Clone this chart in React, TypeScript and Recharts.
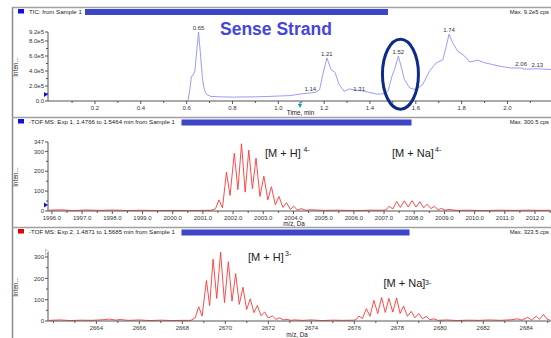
import React from "react";
import { LineChart, Line, XAxis, YAxis, ReferenceDot } from "recharts";

const FONT = "'Liberation Sans', Arial, sans-serif";

// TIC trace: [time (min), intensity (cps)]
const ticPoints: [number, number][] = [
  [0.606, 8000], [0.614, 150000], [0.621, 330000], [0.628, 340000], [0.636, 400000],
  [0.645, 700000], [0.652, 920000], [0.66, 640000], [0.669, 300000], [0.678, 140000],
  [0.688, 85000], [0.705, 62000], [0.75, 55000], [0.8, 52000], [0.85, 54000],
  [0.9, 56000], [0.95, 60000], [1.0, 66000], [1.05, 72000], [1.1, 95000],
  [1.14, 108000], [1.165, 118000], [1.18, 150000], [1.194, 350000], [1.212, 575000],
  [1.23, 420000], [1.248, 380000], [1.265, 220000], [1.287, 130000], [1.31, 160000],
  [1.33, 150000], [1.375, 130000], [1.434, 90000], [1.465, 100000], [1.48, 140000],
  [1.496, 330000], [1.507, 420000], [1.524, 600000], [1.536, 460000], [1.55, 290000],
  [1.573, 175000], [1.6, 150000], [1.63, 220000], [1.66, 400000], [1.69, 510000],
  [1.718, 550000], [1.733, 730000], [1.745, 890000], [1.762, 770000], [1.784, 660000],
  [1.813, 600000], [1.835, 520000], [1.87, 545000], [1.9, 510000], [1.93, 490000],
  [1.973, 460000], [2.017, 440000], [2.06, 440000], [2.075, 425000], [2.13, 430000],
  [2.19, 420000],
];

// peak labels on the TIC: [time, intensity, text]
const ticPeaks: [number, number, string][] = [
  [0.652, 920000, "0.65"], [1.14, 108000, "1.14"], [1.212, 575000, "1.21"],
  [1.31, 160000, "1.31"], [1.524, 600000, "1.52"], [1.745, 890000, "1.74"],
  [2.06, 440000, "2.06"], [2.13, 430000, "2.13"],
];
const circledPeak = { time: 1.533, intensity: 357000 };

// spectrum, Exp 1: [m/z, intensity]
const exp1Points: [number, number][] = [
  [1995.9, 4], [1996.3, 6], [1996.7, 2], [1997.1, 5], [1997.6, 3], [1998.0, 5],
  [1998.5, 2], [1999.0, 4], [1999.5, 2], [2000.0, 3], [2000.5, 2], [2001.0, 3],
  [2001.3, 4], [2001.42, 12], [2001.53, 56], [2001.65, 16], [2001.78, 195],
  [2001.9, 78], [2002.04, 290], [2002.16, 107], [2002.28, 338], [2002.4, 95],
  [2002.52, 306], [2002.64, 112], [2002.76, 266], [2002.89, 73], [2003.02, 175],
  [2003.15, 56], [2003.27, 122], [2003.4, 31], [2003.52, 73], [2003.65, 18],
  [2003.77, 42], [2003.9, 8], [2004.01, 24], [2004.13, 5], [2004.26, 12],
  [2004.4, 4], [2004.6, 6], [2005.0, 3], [2005.5, 4], [2006.0, 2], [2006.5, 4],
  [2007.0, 4], [2007.08, 8], [2007.17, 24], [2007.29, 10], [2007.42, 48],
  [2007.54, 18], [2007.67, 51], [2007.8, 20], [2007.93, 52], [2008.06, 20],
  [2008.19, 47], [2008.31, 16], [2008.43, 34], [2008.55, 12], [2008.67, 24],
  [2008.79, 6], [2008.9, 13], [2009.03, 4], [2009.15, 8], [2009.4, 3],
  [2009.8, 4], [2010.3, 2], [2010.8, 4], [2011.3, 3], [2011.8, 4], [2012.2, 3],
  [2012.5, 4],
];

// spectrum, Exp 2: [m/z, intensity]
const exp2Points: [number, number][] = [
  [2661.8, 3], [2662.3, 5], [2662.8, 2], [2663.3, 4], [2663.8, 3], [2664.3, 6],
  [2664.6, 9], [2664.9, 4], [2665.1, 7], [2665.5, 3], [2666.0, 5], [2666.5, 2],
  [2667.0, 4], [2667.5, 2], [2668.0, 3], [2668.4, 3], [2668.6, 15], [2668.76, 67],
  [2668.92, 23], [2669.12, 190], [2669.27, 72], [2669.43, 290], [2669.6, 106],
  [2669.78, 323], [2669.96, 86], [2670.14, 278], [2670.31, 93], [2670.48, 222],
  [2670.65, 78], [2670.82, 158], [2670.99, 54], [2671.16, 104], [2671.33, 39],
  [2671.49, 73], [2671.66, 25], [2671.83, 42], [2672.0, 14], [2672.19, 24],
  [2672.35, 8], [2672.52, 15], [2672.7, 5], [2672.86, 8], [2673.05, 3],
  [2673.2, 5], [2673.6, 3], [2674.0, 5], [2674.5, 2], [2675.0, 4], [2675.5, 3],
  [2676.0, 4], [2676.1, 8], [2676.21, 23], [2676.38, 12], [2676.56, 58],
  [2676.73, 22], [2676.91, 97], [2677.09, 35], [2677.27, 110], [2677.44, 40],
  [2677.61, 106], [2677.79, 42], [2677.97, 108], [2678.13, 35], [2678.29, 70],
  [2678.47, 22], [2678.65, 45], [2678.82, 15], [2679.0, 35], [2679.17, 10],
  [2679.35, 22], [2679.52, 6], [2679.69, 10], [2679.9, 3], [2680.3, 5],
  [2680.8, 2], [2681.3, 4], [2681.8, 3], [2682.3, 5], [2682.8, 3], [2683.3, 6],
  [2683.6, 10], [2683.8, 4], [2684.06, 17], [2684.25, 5], [2684.47, 23],
  [2684.62, 8], [2684.8, 31], [2684.95, 10], [2685.1, 4],
];

// axis ticks
const ticXMajor = [0.2, 0.4, 0.6, 0.8, 1.0, 1.2, 1.4, 1.6, 1.8, 2.0];
const ticXMinor = [0.1, 0.3, 0.5, 0.7, 0.9, 1.1, 1.3, 1.5, 1.7, 1.9, 2.1];
const ticYMajor = [0, 200000, 400000, 600000, 800000, 920000];
const ticYMinor = [100000, 300000, 500000, 700000];
const exp1XMajor = [1996, 1997, 1998, 1999, 2000, 2001, 2002, 2003, 2004, 2005, 2006, 2007, 2008, 2009, 2010, 2011, 2012];
const exp1XMinor = [1996.5, 1997.5, 1998.5, 1999.5, 2000.5, 2001.5, 2002.5, 2003.5, 2004.5, 2005.5, 2006.5, 2007.5, 2008.5, 2009.5, 2010.5, 2011.5, 2012.5];
const exp1YMajor = [0, 100, 200, 300, 347];
const exp1YMinor = [50, 150, 250];
const exp2XMajor = [2664, 2666, 2668, 2670, 2672, 2674, 2676, 2678, 2680, 2682, 2684];
const exp2XMinor = [2662, 2663, 2665, 2667, 2669, 2671, 2673, 2675, 2677, 2679, 2681, 2683, 2685];
const exp2YMajor = [0, 100, 200, 300];
const exp2YMinor = [50, 150, 250];

const panelTitles = [
  "TIC: from Sample 1",
  "-TOF MS: Exp 1, 1.4766 to 1.5464 min from Sample 1",
  "-TOF MS: Exp 2, 1.4871 to 1.5685 min from Sample 1",
];
const panelMax = ["Max. 9.2e5 cps", "Max. 300.5 cps", "Max. 323.5 cps"];

const isMajor = (v: number, majors: number[]) => majors.some((m) => Math.abs(m - v) < 1e-6);

function XTick(props: any) {
  const { x, y, payload, majors, fmt } = props;
  const major = isMajor(payload.value, majors);
  return (
    <g>
      <line x1={x} x2={x} y1={y} y2={y + (major ? 3 : 2)} stroke="#555" />
      {major && (
        <text x={x} y={y + 8.5} textAnchor="middle" fontSize={6} fill="#333" fontFamily={FONT}>
          {fmt(payload.value)}
        </text>
      )}
    </g>
  );
}

function YTick(props: any) {
  const { x, y, payload, majors, fmt } = props;
  const major = isMajor(payload.value, majors);
  return (
    <g>
      <line x1={x - (major ? 3 : 2)} x2={x} y1={y} y2={y} stroke="#555" />
      {major && (
        <text x={x - 4} y={y + 2.2} textAnchor="end" fontSize={6} fill="#333" fontFamily={FONT}>
          {fmt(payload.value)}
        </text>
      )}
    </g>
  );
}

const sortTicks = (a: number[], b: number[]) => [...a, ...b].sort((p, q) => p - q);

function Panel({ top, data, xDomain, yDomain, xMajor, xMinor, yMajor, yMinor, xFmt, yFmt, color, children }: any) {
  return (
    <div style={{ position: "absolute", left: 0, top }}>
      <LineChart width={551} height={118} data={data} margin={{ top: 32, right: 0, bottom: 0, left: 0 }}>
        <XAxis
          dataKey="x"
          type="number"
          domain={xDomain}
          allowDataOverflow
          ticks={sortTicks(xMajor, xMinor)}
          interval={0}
          tickLine={false}
          tickSize={0}
          tickMargin={0}
          height={17}
          axisLine={{ stroke: "#555" }}
          tick={(p: any) => <XTick {...p} majors={xMajor} fmt={xFmt} />}
        />
        <YAxis
          type="number"
          domain={yDomain}
          allowDataOverflow
          ticks={sortTicks(yMajor, yMinor)}
          interval={0}
          tickLine={false}
          tickSize={0}
          tickMargin={0}
          width={48}
          axisLine={{ stroke: "#555" }}
          tick={(p: any) => <YTick {...p} majors={yMajor} fmt={yFmt} />}
        />
        <Line
          type="linear"
          dataKey="y"
          stroke={color}
          strokeWidth={0.9}
          dot={false}
          isAnimationActive={false}
        />
        {children}
      </LineChart>
    </div>
  );
}

const toRows = (pts: [number, number][]) => pts.map(([x, y]) => ({ x, y }));

export default function App() {
  const headerY = [7, 117, 227];
  const labelStyle = { fontFamily: FONT, fill: "#222" };
  return (
    <div style={{ position: "absolute", left: 0, top: 0, width: 551, height: 338, overflow: "hidden", background: "#fff" }}>
      <Panel
        top={0}
        data={toRows(ticPoints)}
        xDomain={[-0.005, 2.19]}
        yDomain={[0, 920000]}
        xMajor={ticXMajor}
        xMinor={ticXMinor}
        yMajor={ticYMajor}
        yMinor={ticYMinor}
        xFmt={(v: number) => v.toFixed(1)}
        yFmt={(v: number) => (v === 0 ? "0.0" : (v / 100000).toFixed(1) + "e5")}
        color="#8f8fff"
      >
        {ticPeaks.map(([t, v, txt]) => (
          <ReferenceDot
            key={txt}
            x={t}
            y={v}
            r={0}
            fill="none"
            stroke="none"
            label={{
              value: txt,
              position: txt === "1.31" ? "right" : "top",
              offset: txt === "1.31" ? 4 : 2,
              fontSize: 6,
              fill: "#333",
              fontFamily: FONT,
            }}
          />
        ))}
        <ReferenceDot
          x={circledPeak.time}
          y={circledPeak.intensity}
          r={1}
          shape={(p: any) => (
            <ellipse cx={p.cx} cy={p.cy} rx={18} ry={35} fill="none" stroke="#0c2a88" strokeWidth={3} />
          )}
        />
      </Panel>
      <Panel
        top={110}
        data={toRows(exp1Points)}
        xDomain={[1995.87, 2012.53]}
        yDomain={[0, 347]}
        xMajor={exp1XMajor}
        xMinor={exp1XMinor}
        yMajor={exp1YMajor}
        yMinor={exp1YMinor}
        xFmt={(v: number) => v.toFixed(1)}
        yFmt={(v: number) => String(v)}
        color="#ff3535"
      />
      <Panel
        top={220}
        data={toRows(exp2Points)}
        xDomain={[2661.75, 2685.15]}
        yDomain={[0, 323.5]}
        xMajor={exp2XMajor}
        xMinor={exp2XMinor}
        yMajor={exp2YMajor}
        yMinor={exp2YMinor}
        xFmt={(v: number) => String(v)}
        yFmt={(v: number) => String(v)}
        color="#ff3535"
      />

      <svg width={551} height={338} style={{ position: "absolute", left: 0, top: 0, pointerEvents: "none" }}>
        <line x1={12.5} x2={12.5} y1={7} y2={338} stroke="#8c8c8c" strokeWidth={1.5} />
        {headerY.map((hy, i) => (
          <g key={i}>
            <line x1={12} x2={551} y1={hy + 0.5} y2={hy + 0.5} stroke="#a0a0a0" strokeWidth={1.5} />
            <rect x={18} y={hy + 2} width={6} height={4.5} fill={i === 2 ? "#e00000" : "#1010e0"} />
            <text x={29} y={hy + 7} fontSize={6.1} {...labelStyle}>{panelTitles[i]}</text>
            <text x={549} y={hy + 7} fontSize={5.8} textAnchor="end" {...labelStyle}>{panelMax[i]}</text>
            <text
              x={0}
              y={0}
              fontSize={6.3}
              textAnchor="middle"
              transform={`translate(18, ${hy + 60}) rotate(-90)`}
              {...labelStyle}
            >
              Inten...
            </text>
          </g>
        ))}
        <rect x={85} y={9} width={303} height={6} fill="#3d45c8" />
        <rect x={181.5} y={119.5} width={230} height={6} fill="#3d45c8" />
        <rect x={181.5} y={229.5} width={228} height={6} fill="#3d45c8" />

        <text x={300.5} y={114.5} fontSize={6.3} textAnchor="middle" {...labelStyle}>Time, min</text>
        <text x={294} y={225.5} fontSize={6.3} textAnchor="middle" {...labelStyle}>m/z, Da</text>
        <text x={297} y={336.5} fontSize={6.3} textAnchor="middle" {...labelStyle}>m/z, Da</text>

        <text x={220} y={35} fontSize={17.5} fontWeight="bold" fontFamily={FONT} fill="#4646dc">Sense Strand</text>

        <text x={265} y={156.5} fontSize={11} {...labelStyle}>[M + H]</text>
        <text x={303.5} y={152} fontSize={7} {...labelStyle}>4-</text>
        <text x={392} y={156.5} fontSize={11} {...labelStyle}>[M + Na]</text>
        <text x={435} y={152} fontSize={7} {...labelStyle}>4-</text>
        <text x={248} y={260.5} fontSize={11} {...labelStyle}>[M + H]</text>
        <text x={285} y={256} fontSize={7} {...labelStyle}>3-</text>
        <text x={383.5} y={287} fontSize={11} {...labelStyle}>[M + Na]</text>
        <text x={425} y={284.5} fontSize={7} {...labelStyle}>3-</text>

        <polygon points="44,92 48,94.5 44,97" fill="#1010e0" />
        <polygon points="44,202.5 48,205 44,207.5" fill="#1010e0" />
        <polygon points="298,104 302,104 300,108" fill="#00a0a0" />
        <line x1={300} x2={300} y1={102} y2={104} stroke="#00a0a0" />
        <polygon points="45.5,249 49,252 45.5,255" fill="none" stroke="#999" strokeWidth={0.6} />
      </svg>
    </div>
  );
}
